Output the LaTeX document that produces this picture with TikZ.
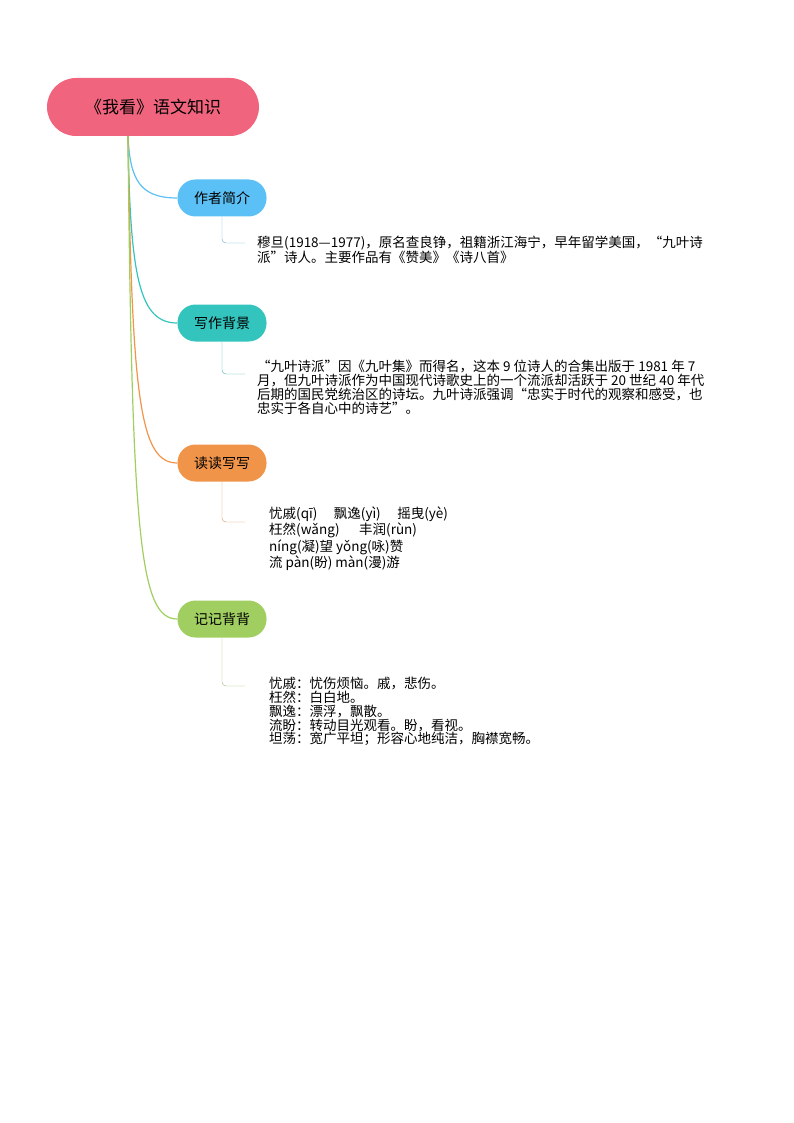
\documentclass[tikz,border=0pt]{standalone}
\usepackage{fontspec}
\setmainfont{Noto Sans CJK SC}
\begin{document}
\begin{tikzpicture}[x=1pt,y=-1pt,
  branch/.style={rounded corners=18pt,minimum width=89pt,minimum height=37pt,text=black,font=\fontsize{14}{16}\selectfont,inner sep=0pt},
  leaf/.style={anchor=north west,align=left,inner sep=0pt,font=\fontsize{13.5}{13.8}\selectfont},
  conn/.style={line width=1.2pt}]
\useasboundingbox (0,0) rectangle (794,1123);
\definecolor{cr}{HTML}{F0647E}\definecolor{cb}{HTML}{5BC0F5}\definecolor{ct}{HTML}{33C4BE}
\definecolor{co}{HTML}{F0944A}\definecolor{cg}{HTML}{A0CE60}
\node[fill=cr,rounded corners=29pt,minimum width=212pt,minimum height=58pt,font=\fontsize{17}{19}\selectfont] (root) at (153,107) {《我看》语文知识};
\node[branch,fill=cb] (b1) at (222,198) {作者简介};
\node[branch,fill=ct] (b2) at (222,323) {写作背景};
\node[branch,fill=co] (b3) at (222,463) {读读写写};
\node[branch,fill=cg] (b4) at (222,619) {记记背背};
\coordinate (r) at (128,136);
\draw[conn,cb] (r) .. controls (130,180) and (140,198) .. (b1.west);
\draw[conn,ct] (r) .. controls (130,280) and (140,323) .. (b2.west);
\draw[conn,co] (r) .. controls (132,400) and (140,463) .. (b3.west);
\draw[conn,cg] (r) .. controls (132,540) and (140,619) .. (b4.west);
\node[leaf] (t1) at (257,236) {穆旦(1918—1977)，原名查良铮，祖籍浙江海宁，早年留学美国，“九叶诗\\派”诗人。主要作品有《赞美》《诗八首》};
\node[leaf] (t2) at (257,360) {“九叶诗派”因《九叶集》而得名，这本 9 位诗人的合集出版于 1981 年 7\\月，但九叶诗派作为中国现代诗歌史上的一个流派却活跃于 20 世纪 40 年代\\后期的国民党统治区的诗坛。九叶诗派强调“忠实于时代的观察和感受，也\\忠实于各自心中的诗艺”。};
\node[leaf] (t3) at (269,507) {忧戚(qī)\quad\ 飘逸(yì)\quad\ 摇曳(yè)\\枉然(wǎng)\quad\ \ 丰润(rùn)\\níng(凝)望 yǒng(咏)赞\\流 pàn(盼) màn(漫)游};
\node[leaf] (t4) at (269,677) {忧戚：忧伤烦恼。戚，悲伤。\\枉然：白白地。\\飘逸：漂浮，飘散。\\流盼：转动目光观看。盼，看视。\\坦荡：宽广平坦；形容心地纯洁，胸襟宽畅。};
\draw[cb!70!gray,rounded corners=4pt] (b1.south) |- (245,243);
\draw[ct!70!gray,rounded corners=4pt] (b2.south) |- (245,374);
\draw[co!70!gray,rounded corners=4pt] (b3.south) |- (245,522);
\draw[cg!70!gray,rounded corners=4pt] (b4.south) |- (245,686);
\end{tikzpicture}
\end{document}
